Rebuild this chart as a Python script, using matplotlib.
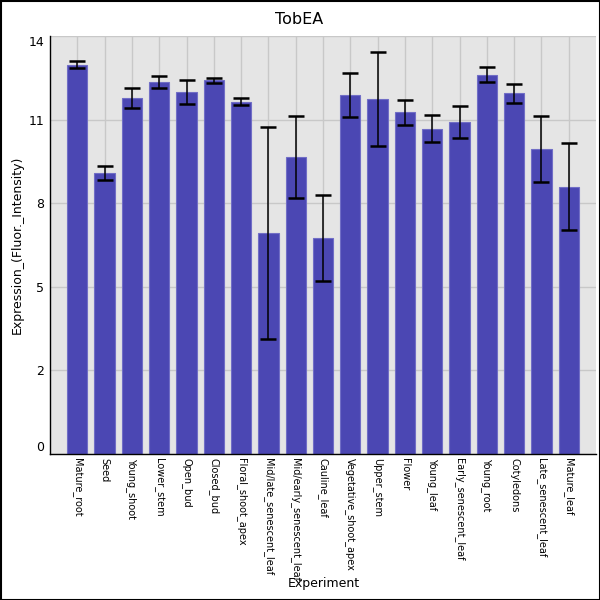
import matplotlib
matplotlib.use("Agg")
import matplotlib.pyplot as plt
from matplotlib.patches import Rectangle

# values
experiments = [
    "Mature_root", "Seed", "Young_shoot", "Lower_stem", "Open_bud",
    "Closed_bud", "Floral_shoot_apex", "Mid/late_senescent_leaf",
    "Mid/early_senescent_leaf", "Cauline_leaf", "Vegetative_shoot_apex",
    "Upper_stem", "Flower", "Young_leaf", "Early_senescent_leaf",
    "Young_root", "Cotyledons", "Late_senescent_leaf", "Mature_leaf",
]
expression = [13.04, 9.42, 11.93, 12.46, 12.13, 12.52, 11.80, 7.40, 9.95,
              7.24, 12.03, 11.90, 11.45, 10.89, 11.12, 12.70, 12.08, 10.22, 8.95]
errors = [0.11, 0.23, 0.33, 0.20, 0.41, 0.08, 0.12, 3.55, 1.37,
          1.43, 0.73, 1.57, 0.42, 0.45, 0.53, 0.25, 0.32, 1.10, 1.46]
ytick_vals = [0, 2.8, 5.6, 8.4, 11.2, 14]
ytick_labels = ["0", "2", "5", "8", "11", "14"]

fig = plt.figure(figsize=(6, 6), dpi=100)
ax = fig.add_axes([50 / 600, 1 - 454 / 600, 546 / 600, 418 / 600])
ax.set_facecolor("#e5e5e5")

x = list(range(len(experiments)))
ax.bar(x, expression, width=0.74, color="#4B47B3", edgecolor="#716EC6",
       linewidth=0.8, zorder=2)
ax.errorbar(x, expression, yerr=errors, fmt="none", ecolor="black",
            elinewidth=1.1, capsize=5.8, capthick=1.8, zorder=3)

ax.set_xlim(-1, len(experiments))
ax.set_ylim(0, 14)
ax.set_xticks(x)
ax.set_xticklabels(experiments, rotation=270, fontsize=7, va="top", ha="center")
ax.set_yticks(ytick_vals)
ax.set_yticklabels(ytick_labels, fontsize=9)
ax.tick_params(axis="both", length=0, pad=4)
ax.tick_params(axis="x", pad=3)
lbls = ax.get_yticklabels()
lbls[0].set_va("bottom")
lbls[-1].set_va("top")

ax.grid(True, color="#c8c8c8", linewidth=1.0, zorder=0)
ax.set_axisbelow(True)
for side in ("top", "right"):
    ax.spines[side].set_visible(False)
for side in ("left", "bottom"):
    ax.spines[side].set_color("black")
    ax.spines[side].set_linewidth(1.0)

ax.set_ylabel("Expression_(Fluor._Intensity)", fontsize=9)
ax.yaxis.set_label_coords(-26 / 546, 0.5)
fig.text(323.5 / 600, 1 - 584 / 600, "Experiment", fontsize=9,
         ha="center", va="center")
fig.text(299 / 600, 1 - 20 / 600, "TobEA", fontsize=11.5, ha="center", va="center")

# thin black frame round the whole figure
fig.patches.append(Rectangle((0.5 / 600, 0.5 / 600), 599 / 600, 599 / 600,
                             transform=fig.transFigure, fill=False,
                             edgecolor="black", linewidth=1.5))

fig.savefig("out.png", dpi=100)
